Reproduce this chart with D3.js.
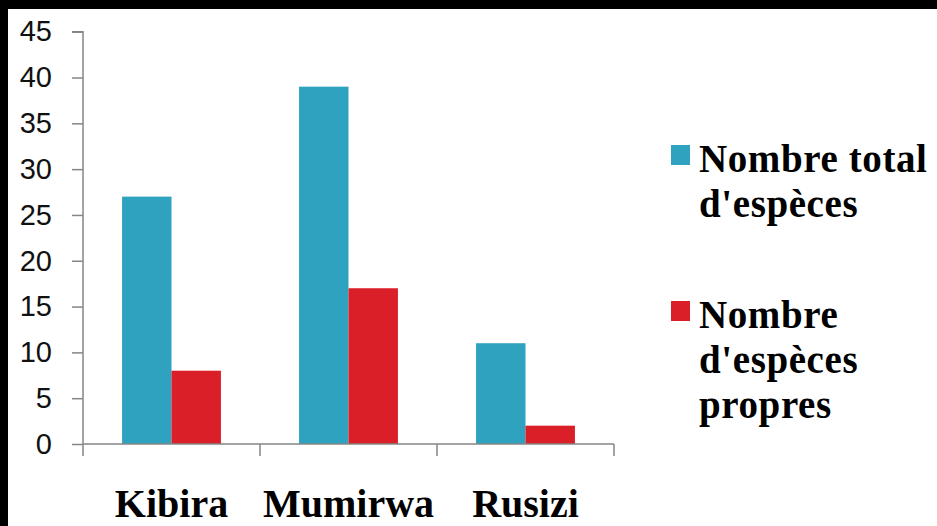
<!DOCTYPE html>
<html>
<head>
<meta charset="utf-8">
<script src="https://cdn.jsdelivr.net/npm/d3@7"></script>
<style>
  html, body { margin: 0; padding: 0; background: #000; }
  svg { display: block; }
</style>
</head>
<body>
<svg id="chart"></svg>
<script>
const categories = ["Kibira", "Mumirwa", "Rusizi"];
const seriesNames = ["Nombre total d'espèces", "Nombre d'espèces propres"];
const totalSpecies = [27, 39, 11];
const ownSpecies = [8, 17, 2];
const yTicks = [0, 5, 10, 15, 20, 25, 30, 35, 40, 45];
const legendLines = [["Nombre total", "d'espèces"], ["Nombre", "d'espèces", "propres"]];
const colors = ["#2ea2bf", "#da1f28"];

const W = 937, H = 526;
const svg = d3.select("#chart").attr("width", W).attr("height", H);

// black frame at top/left, white plot area
svg.append("rect").attr("width", W).attr("height", H).attr("fill", "#000");
svg.append("rect").attr("x", 8).attr("y", 9).attr("width", W - 8).attr("height", H - 9).attr("fill", "#fff");

const x = d3.scaleBand().domain(categories).range([83, 614]);
const xs = d3.scaleBand().domain(seriesNames).range([0, x.bandwidth()]).paddingOuter(0.79);
const y = d3.scaleLinear().domain([0, 45]).range([444, 31.7]);

const rows = categories.map((c, i) => ({ cat: c, vals: [totalSpecies[i], ownSpecies[i]] }));

svg.append("g").selectAll("g")
    .data(rows)
    .enter()
    .append("g")
    .attr("transform", d => `translate(${x(d.cat)},0)`)
    .selectAll("rect")
    .data(d => d.vals.map((v, j) => ({ s: seriesNames[j], v, j })))
    .enter()
    .append("rect")
    .attr("x", d => xs(d.s))
    .attr("width", xs.bandwidth())
    .attr("y", d => y(d.v))
    .attr("height", d => y(0) - y(d.v))
    .attr("fill", d => colors[d.j]);

// y axis
const yAxis = d3.axisLeft(y).tickValues(yTicks).tickSize(11).tickPadding(20);
const gy = svg.append("g").attr("transform", "translate(83,0)").call(yAxis);
gy.select(".domain").attr("stroke", "#868686").attr("stroke-width", 1.5).attr("d", `M-11,${y(45)}H0V${y(0)}`);
gy.selectAll(".tick line").attr("stroke", "#868686").attr("stroke-width", 1.5);
gy.selectAll(".tick text")
    .attr("fill", "#111")
    .style("font-family", "'Liberation Sans', Arial, sans-serif")
    .style("font-size", "29px");

// x axis: line with ticks at category boundaries
const gx = svg.append("g");
const bounds = categories.map(c => x(c)).concat([x.range()[1]]);
gx.append("line")
    .attr("x1", x.range()[0]).attr("x2", x.range()[1])
    .attr("y1", y(0)).attr("y2", y(0))
    .attr("stroke", "#868686").attr("stroke-width", 1.5);
gx.selectAll("line.tk")
    .data(bounds)
    .enter()
    .append("line")
    .attr("class", "tk")
    .attr("x1", d => d).attr("x2", d => d)
    .attr("y1", y(0)).attr("y2", y(0) + 12)
    .attr("stroke", "#868686").attr("stroke-width", 1.5);
gx.selectAll("text")
    .data(categories)
    .enter()
    .append("text")
    .attr("x", d => x(d) + x.bandwidth() / 2)
    .attr("y", 517)
    .attr("text-anchor", "middle")
    .attr("fill", "#000")
    .style("font-family", "'Liberation Serif', 'Times New Roman', serif")
    .style("font-weight", "bold")
    .style("font-size", "40px")
    .text(d => d);

// legend
const legendTop = [145, 301];
const legend = svg.append("g");
legendLines.forEach((lines, i) => {
    legend.append("rect")
        .attr("x", 671).attr("y", legendTop[i])
        .attr("width", 19).attr("height", 20)
        .attr("fill", colors[i]);
    legend.append("text")
        .attr("x", 699)
        .attr("fill", "#000")
        .style("font-family", "'Liberation Serif', 'Times New Roman', serif")
        .style("font-weight", "bold")
        .style("font-size", "39px")
        .style("letter-spacing", "0.6px")
        .selectAll("tspan")
        .data(lines)
        .enter()
        .append("tspan")
        .attr("x", 699)
        .attr("y", (d, k) => legendTop[i] + 27 + k * 45)
        .text(d => d);
});
</script>
</body>
</html>
